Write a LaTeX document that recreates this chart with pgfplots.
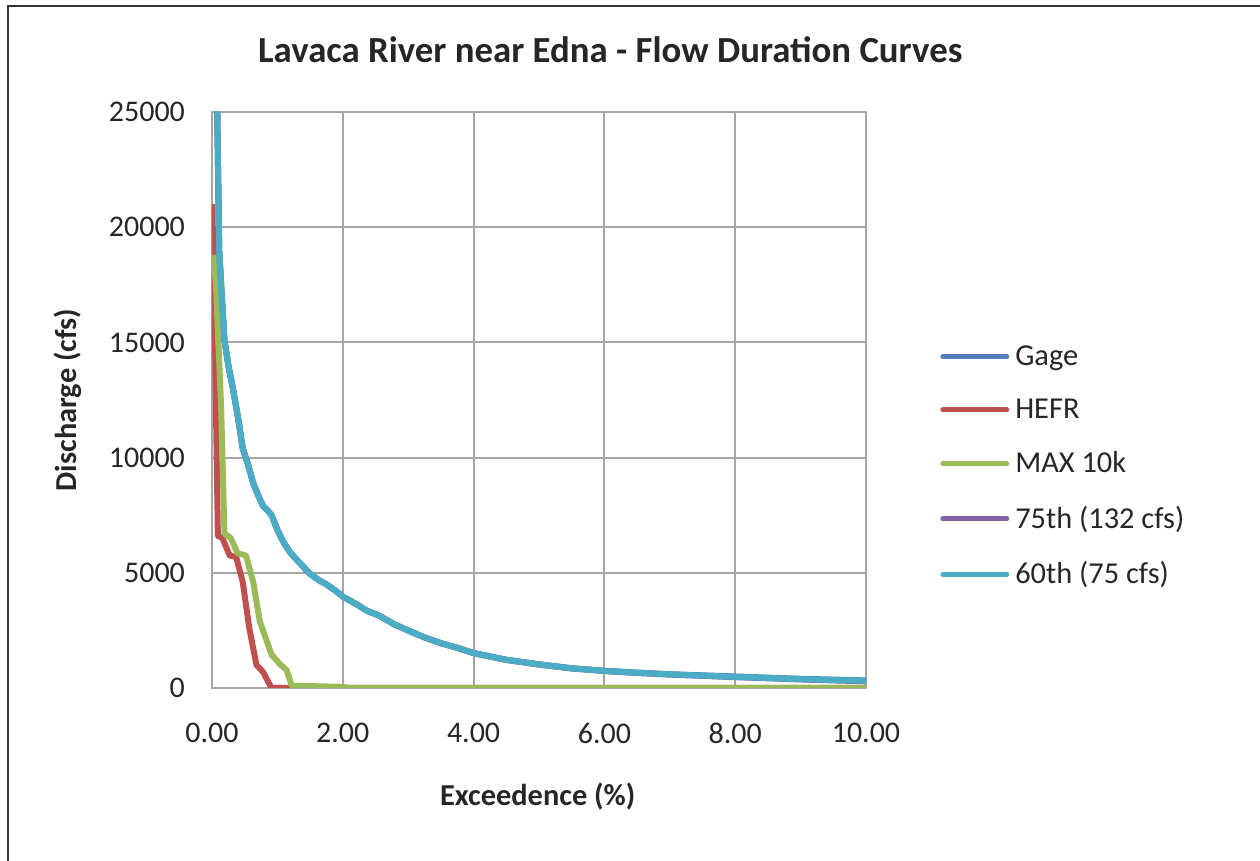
\documentclass[border=0pt]{standalone}
\usepackage{pgfplots}
\pgfplotsset{compat=1.18}
\usepackage{pgfplotstable}
\usepackage{fontspec}
\setmainfont{Carlito}

\definecolor{cgage}{HTML}{4F81BD}
\definecolor{chefr}{HTML}{C0504D}
\definecolor{cmax}{HTML}{9BBB59}
\definecolor{c75}{HTML}{8064A2}
\definecolor{c60}{HTML}{4BACC6}
\definecolor{cgrid}{HTML}{A6A6A6}

% exceedence (%) vs discharge (cfs)
\pgfplotstableread{
x y
0.03 40000
0.08 25000
0.11 19000
0.15 17000
0.19 15100
0.25 14000
0.32 13000
0.40 11700
0.47 10400
0.55 9700
0.63 8900
0.70 8400
0.78 7900
0.85 7700
0.91 7500
1.01 6800
1.10 6300
1.19 5900
1.35 5400
1.50 4950
1.65 4650
1.75 4500
1.90 4200
2.01 3950
2.20 3650
2.37 3350
2.55 3150
2.78 2780
3.00 2500
3.25 2200
3.50 1950
3.75 1750
4.00 1520
4.50 1230
5.00 1030
5.50 860
6.00 750
6.50 670
7.00 600
7.50 550
8.00 500
8.50 450
9.00 400
9.50 365
10.00 330
}\gage

\pgfplotstableread{
x y
0.00 21000
0.03 18500
0.06 12200
0.09 6600
0.16 6500
0.27 5750
0.37 5680
0.47 4600
0.57 2600
0.68 1000
0.78 700
0.91 0
10.00 0
}\hefr

\pgfplotstableread{
x y
0.03 18800
0.06 17500
0.14 12200
0.19 6700
0.29 6500
0.39 5850
0.52 5750
0.63 4600
0.73 2900
0.91 1450
1.04 1030
1.14 780
1.22 100
2.00 50
2.10 0
10.00 0
}\maxten

\pgfplotstableread{
x y
0.03 40000
0.08 25000
0.11 19000
0.15 17000
0.19 15100
0.25 14000
0.32 13000
0.40 11700
0.47 10400
0.55 9700
0.63 8900
0.70 8400
0.78 7900
0.85 7700
0.91 7500
1.01 6800
1.10 6300
1.19 5900
1.35 5400
1.50 4950
1.65 4650
1.75 4500
1.90 4200
2.01 3950
2.20 3650
2.37 3350
2.55 3150
2.78 2770
3.00 2490
3.25 2190
3.50 1940
3.75 1740
4.00 1510
4.50 1215
5.00 1015
5.50 845
6.00 735
6.50 650
7.00 580
7.50 525
8.00 470
8.50 420
9.00 370
9.50 330
10.00 290
}\pctsf

\pgfplotstableread{
x y
0.03 40000
0.08 25000
0.11 19000
0.15 17000
0.19 15100
0.25 14000
0.32 13000
0.40 11700
0.47 10400
0.55 9700
0.63 8900
0.70 8400
0.78 7900
0.85 7700
0.91 7500
1.01 6800
1.10 6300
1.19 5900
1.35 5400
1.50 4950
1.65 4650
1.75 4500
1.90 4200
2.01 3950
2.20 3650
2.37 3350
2.55 3150
2.78 2775
3.00 2495
3.25 2195
3.50 1945
3.75 1745
4.00 1515
4.50 1222
5.00 1022
5.50 852
6.00 742
6.50 660
7.00 590
7.50 537
8.00 485
8.50 435
9.00 385
9.50 348
10.00 312
}\pctsx

\begin{document}
\begin{tikzpicture}
\useasboundingbox (0,0) rectangle (630pt,430.5pt);
\draw[line width=1.2pt, black!80] (4pt,0) -- (4pt,427.5pt) -- (630pt,427.5pt);
\begin{axis}[
    at={(106pt,86.5pt)}, anchor=south west,
    scale only axis, width=327pt, height=288pt,
    xmin=0, xmax=10, ymin=0, ymax=25000,
    xtick={0,2,4,6,8,10},
    ytick={0,5000,10000,15000,20000,25000},
    major tick length=0pt,
    grid=major,
    major grid style={cgrid, line width=1pt},
    axis line style={cgrid, line width=1pt},
    /pgf/number format/assume math mode=true,
    xticklabel={\pgfmathprintnumber[fixed, fixed zerofill, precision=2]{\tick}},
    yticklabel={\pgfmathprintnumber[fixed, precision=0, set thousands separator={}]{\tick}},
    scaled y ticks=false,
    ticklabel style={font=\fontsize{15}{17}\selectfont, text=black!85},
    xticklabel style={yshift=-14pt},
    yticklabel style={xshift=-10pt},
    title={\textbf{Lavaca River near Edna - Flow Duration Curves}},
    title style={at={(axis description cs:0.609,1.087)}, anchor=center, font=\fontsize{18.4}{21}\selectfont, text=black!85},
    xlabel={\textbf{Exceedence (\%)}},
    xlabel style={at={(axis description cs:0.498,-0.189)}, anchor=center, font=\fontsize{15.2}{17}\selectfont, text=black!85},
    ylabel={\textbf{Discharge (cfs)}},
    ylabel style={at={(axis description cs:-0.220,0.5)}, anchor=center, font=\fontsize{15.2}{17}\selectfont, text=black!85},
    legend style={at={(axis description cs:1.113,0.385)}, anchor=west, draw=none, fill=none,
        inner sep=0pt, row sep=11.2pt, font=\fontsize{15.2}{17}\selectfont, text=black!85,
        nodes={inner xsep=3pt}},
    legend cell align=left,
    legend image code/.code={\draw[#1, line width=2.5pt, line cap=round] (0pt,0pt) -- (32pt,0pt);},
    clip=true,
    every axis plot/.append style={line width=3pt, line join=round},
]
\addplot[cgage] table {\gage};
\addplot[chefr] table {\hefr};
\addplot[cmax] table {\maxten};
\addplot[c75] table {\pctsf};
\addplot[c60] table {\pctsx};
\legend{Gage, HEFR, MAX 10k, 75th (132 cfs), 60th (75 cfs)}
\end{axis}
\end{tikzpicture}
\end{document}
